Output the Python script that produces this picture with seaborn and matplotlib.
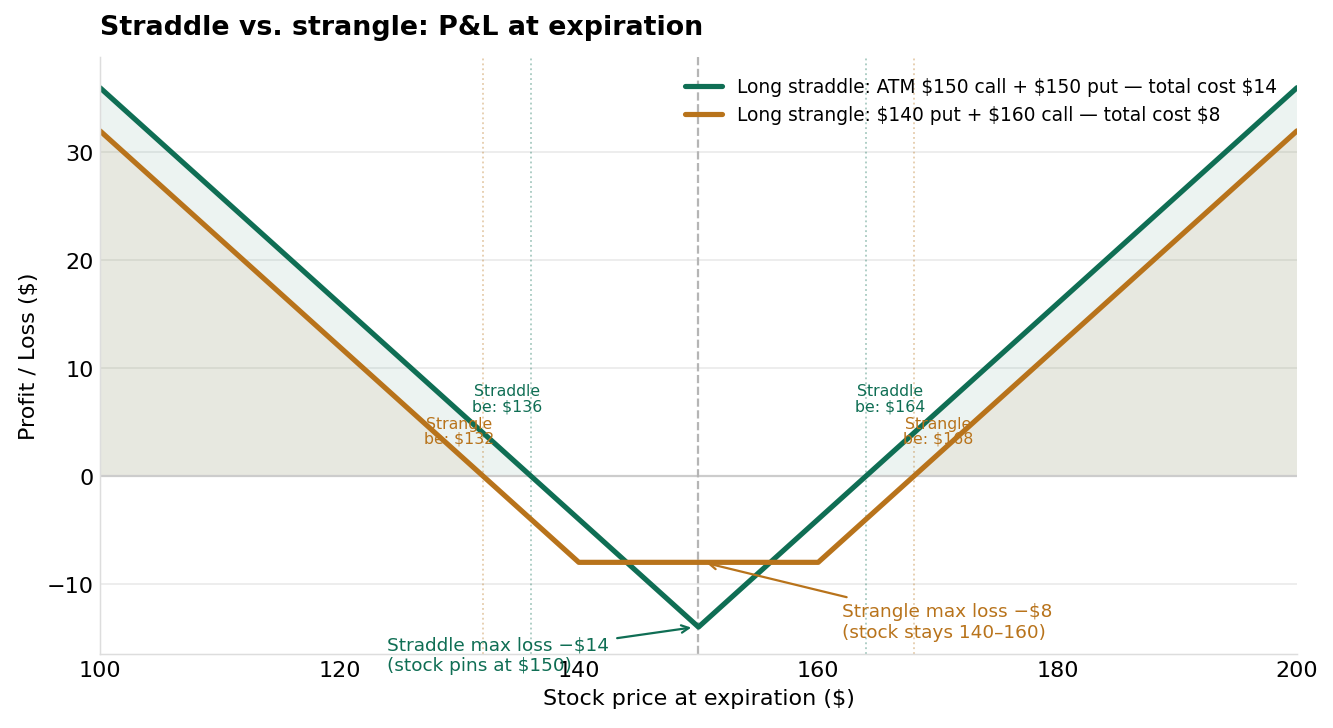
import numpy as np
import pandas as pd
import matplotlib
matplotlib.use("Agg")
import matplotlib.pyplot as plt
import seaborn as sns

# stock prices at the kinks of the payoff curves
prices = [100, 132, 136, 140, 150, 160, 164, 168, 200]
straddle_pl = [36, 4, 0, -4, -14, -4, 0, 4, 36]
strangle_pl = [32, 0, -4, -8, -8, -8, -4, 0, 32]

straddle_be = [136, 164]
strangle_be = [132, 168]
strike_atm = 150

straddle_label = "Long straddle: ATM \\$150 call + \\$150 put — total cost \\$14"
strangle_label = "Long strangle: \\$140 put + \\$160 call — total cost \\$8"

GREEN = "#0f6e54"
ORANGE = "#b8731b"

sns.set_style("whitegrid")
plt.rcParams['font.family'] = ['DejaVu Sans']
plt.rcParams['text.color'] = 'black'
plt.rcParams['axes.labelcolor'] = 'black'
plt.rcParams['xtick.color'] = 'black'
plt.rcParams['ytick.color'] = 'black'

df = pd.DataFrame({
    "price": prices * 2,
    "pl": straddle_pl + strangle_pl,
    "strategy": [straddle_label] * len(prices) + [strangle_label] * len(prices),
})

fig, ax = plt.subplots(figsize=(10, 5.4675), dpi=133.3)
fig.subplots_adjust(left=0.075, right=0.973, top=0.920, bottom=0.1015)

x = np.array(prices, dtype=float)
y1 = np.array(straddle_pl, dtype=float)
y2 = np.array(strangle_pl, dtype=float)
ax.fill_between(x, 0, y1, where=y1 > 0, interpolate=True, color=GREEN, alpha=0.08, lw=0)
ax.fill_between(x, 0, y2, where=y2 > 0, interpolate=True, color=ORANGE, alpha=0.08, lw=0)

sns.lineplot(data=df, x="price", y="pl", hue="strategy",
             palette=[GREEN, ORANGE], linewidth=2.8, ax=ax)

ax.axhline(0, color="#cccccc", lw=1.2, zorder=1)
ax.axvline(strike_atm, color="#b5b5b5", lw=1.2, ls="--", zorder=1)
for b in straddle_be:
    ax.axvline(b, color=GREEN, lw=1, ls=":", alpha=0.35, zorder=1)
for b in strangle_be:
    ax.axvline(b, color=ORANGE, lw=1, ls=":", alpha=0.35, zorder=1)

for b in straddle_be:
    off = -2 if b < strike_atm else 2
    ax.text(b + off, 5.8, f"Straddle\nbe: ${b}", color=GREEN, fontsize=8.5,
            ha="center", va="bottom", linespacing=1.0)
for b in strangle_be:
    off = -2 if b < strike_atm else 2
    ax.text(b + off, 2.8, f"Strangle\nbe: ${b}", color=ORANGE, fontsize=8.5,
            ha="center", va="bottom", linespacing=1.0)

ax.annotate("Straddle max loss \u2212$14\n(stock pins at $150)",
            xy=(149.7, -14), xytext=(124, -16.6), color=GREEN, fontsize=10,
            ha="left", va="center",
            arrowprops=dict(arrowstyle="->", color=GREEN, lw=1.2))
ax.annotate("Strangle max loss \u2212$8\n(stock stays 140\u2013160)",
            xy=(150.4, -8), xytext=(162, -13.5), color=ORANGE, fontsize=10,
            ha="left", va="center",
            arrowprops=dict(arrowstyle="->", color=ORANGE, lw=1.2))

ax.set_xlim(100, 200)
ax.set_ylim(-16.5, 38.8)
ax.set_xticks([100, 120, 140, 160, 180, 200])
ax.set_yticks([-10, 0, 10, 20, 30])
ax.grid(axis="x", visible=False)
ax.grid(axis="y", color="#ececec", lw=1)
ax.tick_params(labelsize=12, length=0)
sns.despine(ax=ax)
for s in ["left", "bottom"]:
    ax.spines[s].set_color("#dddddd")

ax.set_xlabel("Stock price at expiration ($)", fontsize=12)
ax.set_ylabel("Profit / Loss ($)", fontsize=12)
ax.set_title("Straddle vs. strangle: P&L at expiration", fontsize=14.5,
             fontweight="bold", loc="left", pad=12.5)

leg = ax.legend(loc="upper right", frameon=False, fontsize=10.1, title=None,
                borderaxespad=0.65)

plt.savefig("out.png")
